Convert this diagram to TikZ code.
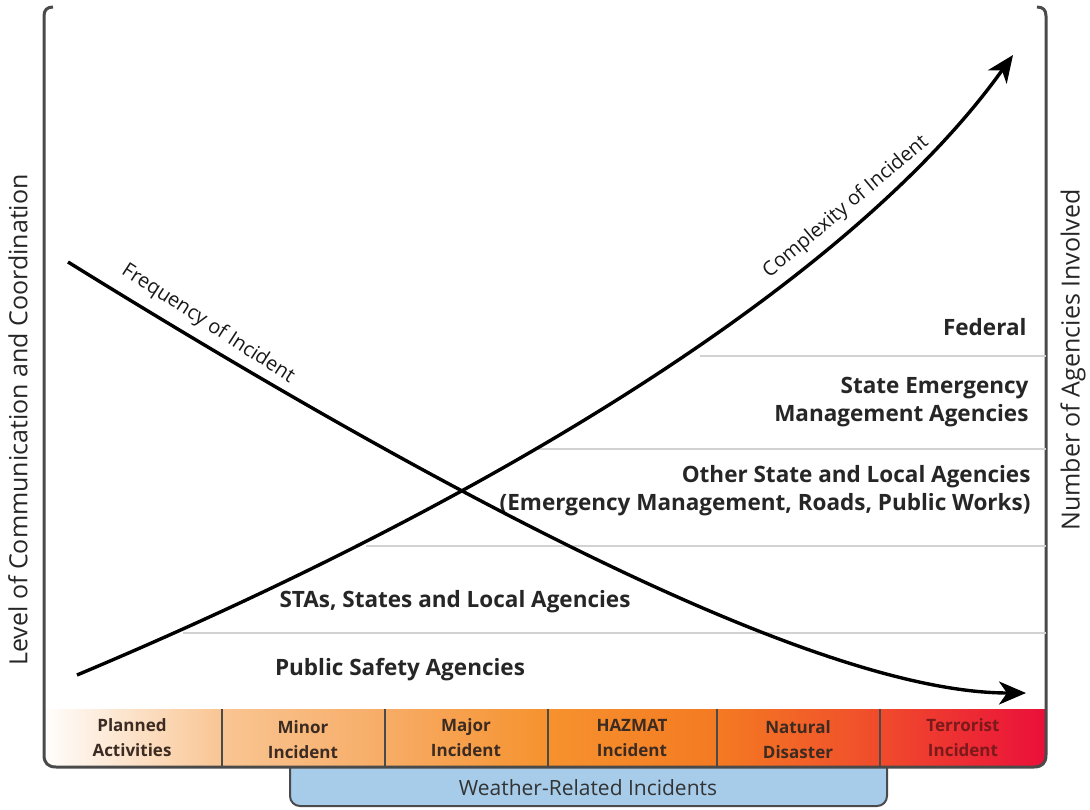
\documentclass[tikz,border=0pt]{standalone}
\usepackage{fontspec}
\setmainfont{Open Sans}
\usetikzlibrary{arrows.meta}

\definecolor{framegray}{HTML}{4A4A4A}
\definecolor{layergray}{HTML}{D2D2D2}
\definecolor{weatherblue}{HTML}{A6CCEA}
\definecolor{bartext}{HTML}{3B2B22}
\definecolor{terrtext}{HTML}{7A1A1A}
\definecolor{stopA}{HTML}{FFFFFF}
\definecolor{stopB}{HTML}{F9C593}
\definecolor{stopC}{HTML}{F7AC66}
\definecolor{stopD}{HTML}{F6922E}
\definecolor{stopE}{HTML}{F47A22}
\definecolor{stopF}{HTML}{F04B2C}
\definecolor{stopG}{HTML}{EA0E3A}

\tikzset{
  agencytext/.style={font=\bfseries\fontsize{22.5}{28}\selectfont, text=black!85},
  curvetext/.style={font=\fontsize{20}{24}\selectfont, text=black!90},
  axistext/.style={font=\fontsize{25}{30}\selectfont, text=black!85, rotate=90},
  barlabel/.style={font=\bfseries\fontsize{17}{25}\selectfont, text=bartext, align=center},
  layerline/.style={layergray, line width=1.5pt},
  trendcurve/.style={line width=3.4pt, -{Stealth[length=27pt,width=23pt,inset=8pt]}},
}

\begin{document}
\begin{tikzpicture}[x=1pt,y=-1pt]
		\useasboundingbox (0,0) rectangle (1090,809);

		% weather box under the bar
		\draw[fill=weatherblue, draw=framegray, line width=2pt, rounded corners=10pt]
			(290,760) -- (290,806) -- (887,806) -- (887,760);
		\node[font=\fontsize{21}{24}\selectfont, text=black!80] (weather) at (588,788) {Weather-Related Incidents};

		% incident bar
		\begin{scope}
			\clip (44,709) -- (44,755) .. controls (44,763) and (48,767) .. (56,767) -- (1034,767) .. controls (1042,767) and (1046,763) .. (1046,755) -- (1046,709) -- cycle;
			\foreach \xa/\xb/\ca/\cb in {40/222/stopA/stopB, 222/385/stopB/stopC, 385/548/stopC/stopD, 548/717/stopD/stopE, 717/880/stopE/stopF, 880/1050/stopF/stopG}
				\shade[left color=\ca, right color=\cb] (\xa,709) rectangle (\xb,767);
		\end{scope}
		\foreach \xd in {222,385,548,717,880}
			\draw[framegray, line width=1.2pt] (\xd,709) -- (\xd,767);

		\node[barlabel] (planned) at (132,738) {Planned\\Activities};
		\node[barlabel] (minor) at (303,740) {Minor\\Incident};
		\node[barlabel] (major) at (466,738) {Major\\Incident};
		\node[barlabel] (hazmat) at (632,738) {HAZMAT\\Incident};
		\node[barlabel] (natural) at (798,740) {Natural\\Disaster};
		\node[barlabel, text=terrtext] (terror) at (963,738) {Terrorist\\Incident};

		% frame
		\draw[framegray, line width=3pt] (53,7) .. controls (47,7) and (44,10) .. (44,16) -- (44,755) .. controls (44,763) and (48,767) .. (56,767) -- (1034,767) .. controls (1042,767) and (1046,763) .. (1046,755) -- (1046,16) .. controls (1046,10) and (1043,7) .. (1037,7);

		% agency layers
		\draw[layerline] (183,633) -- (1046,633);
		\draw[layerline] (366,546) -- (1046,546);
		\draw[layerline] (537,449) -- (1046,449);
		\draw[layerline] (700,356) -- (1046,356);

		\node[agencytext] (public) at (400,670) {Public Safety Agencies};
		\node[agencytext] (stas) at (455,602) {STAs, States and Local Agencies};
		\node[agencytext, anchor=east, align=right] (other) at (1034,491) {Other State and Local Agencies\\(Emergency Management, Roads, Public Works)};
		\node[agencytext, anchor=east, align=right] (stateem) at (1032,402) {State Emergency\\Management Agencies};
		\node[agencytext, anchor=east] (federal) at (1030,327) {Federal};

		% trends
		\draw[trendcurve] (68,262) .. controls (468,510) and (826,693) .. (1026,693);
		\draw[trendcurve] (77,675) .. controls (527,486) and (863,265) .. (1013,55);
		\node[curvetext, rotate=-33] (freq) at (208,324) {Frequency of Incident};
		\node[curvetext, rotate=40] (cplx) at (846,207) {Complexity of Incident};

		% axes
		\node[axistext] (comm) at (18,420) {Level of Communication and Coordination};
		\node[axistext] (number) at (1073,360) {Number of Agencies Involved};

	\end{tikzpicture}
\end{document}
